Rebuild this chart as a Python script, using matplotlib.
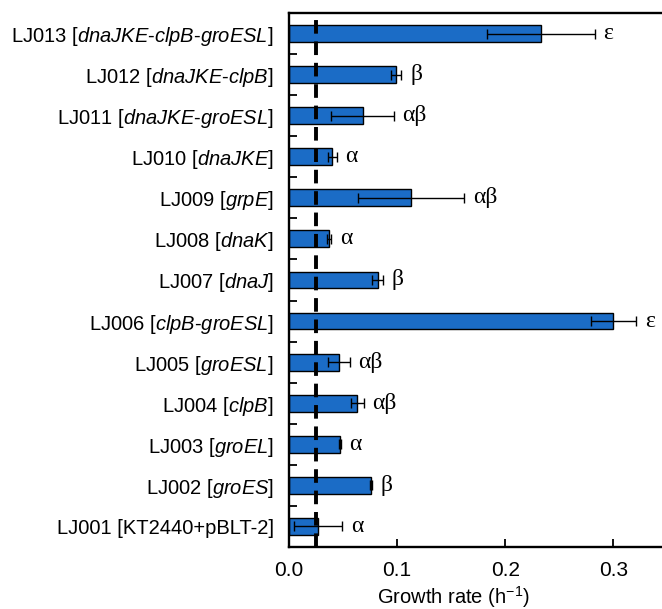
import matplotlib
matplotlib.use('Agg')
import matplotlib.pyplot as plt
from matplotlib.ticker import FixedLocator
import numpy as np

matplotlib.rcParams['font.family'] = 'Liberation Sans'
matplotlib.rcParams['mathtext.fontset'] = 'custom'
matplotlib.rcParams['mathtext.rm'] = 'Liberation Sans'
matplotlib.rcParams['mathtext.it'] = 'Liberation Sans:italic'
matplotlib.rcParams['mathtext.bf'] = 'Liberation Sans:bold'

# bottom to top
strains = ['LJ001 [KT2440+pBLT-2]',
           'LJ002 [$\\it{groES}$]',
           'LJ003 [$\\it{groEL}$]',
           'LJ004 [$\\it{clpB}$]',
           'LJ005 [$\\it{groESL}$]',
           'LJ006 [$\\it{clpB}$-$\\it{groESL}$]',
           'LJ007 [$\\it{dnaJ}$]',
           'LJ008 [$\\it{dnaK}$]',
           'LJ009 [$\\it{grpE}$]',
           'LJ010 [$\\it{dnaJKE}$]',
           'LJ011 [$\\it{dnaJKE}$-$\\it{groESL}$]',
           'LJ012 [$\\it{dnaJKE}$-$\\it{clpB}$]',
           'LJ013 [$\\it{dnaJKE}$-$\\it{clpB}$-$\\it{groESL}$]']
growth = [0.027, 0.076, 0.047, 0.063, 0.046, 0.300, 0.082, 0.037, 0.113, 0.040, 0.068, 0.099, 0.233]
err = [0.022, 0.001, 0.001, 0.006, 0.010, 0.021, 0.005, 0.002, 0.049, 0.004, 0.029, 0.005, 0.050]
groups = ['α', 'β', 'α', 'αβ', 'αβ', 'ε', 'β', 'α', 'αβ', 'α', 'αβ', 'β', 'ε']
control = 0.025

fig = plt.figure(figsize=(6.62, 6.09), dpi=100)
ax = fig.add_axes([0.4366, 0.1018, 0.5634, 0.8769])

y = np.arange(len(strains))
ax.barh(y, growth, height=0.41, color='#1b6cc6', edgecolor='black', linewidth=1.0,
        xerr=err, error_kw=dict(ecolor='black', elinewidth=1, capsize=3.5, capthick=1))
ax.axvline(control, color='black', linestyle=(0, (3.5, 2)), linewidth=2.8)

for i in range(len(strains)):
    ax.text(growth[i] + err[i] + 0.008, y[i], groups[i], fontsize=17,
            family='Liberation Serif', va='center', ha='left')

ax.set_xlim(0, 0.345)
ax.set_ylim(-0.5, len(strains) - 0.5)
ax.set_yticks(y)
ax.set_yticklabels(strains, fontsize=14.5)
ax.yaxis.set_minor_locator(FixedLocator(np.arange(0.5, len(strains) - 1, 1)))
ax.tick_params(axis='y', which='major', length=0, pad=11)
ax.tick_params(axis='y', which='minor', direction='in', length=6, width=1.3)
ax.set_xticks([0.0, 0.1, 0.2, 0.3])
ax.set_xticklabels(['0.0', '0.1', '0.2', '0.3'], fontsize=15)
ax.tick_params(axis='x', direction='in', length=6, width=1.3, pad=10)
ax.set_xlabel('Growth rate (h$^{-1}$)', fontsize=14.5, x=0.44, labelpad=3)

ax.spines['right'].set_visible(False)
for s in ['left', 'bottom', 'top']:
    ax.spines[s].set_linewidth(1.7)

fig.savefig('out.png', dpi=100)
